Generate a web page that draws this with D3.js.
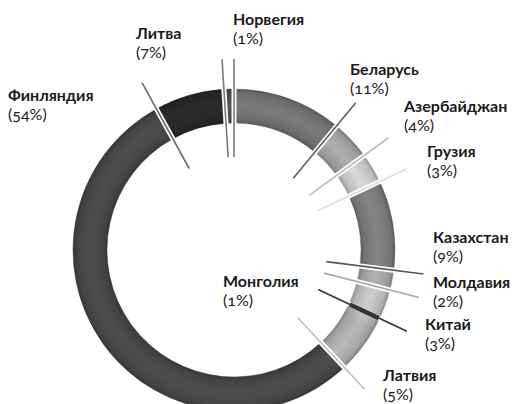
<!DOCTYPE html>
<html>
<head>
<meta charset="utf-8">
<script src="https://cdn.jsdelivr.net/npm/d3@7"></script>
<style>
  html, body { margin: 0; padding: 0; background: #fff; }
  svg { display: block; }
  .name { font-family: Lato, "Noto Sans", sans-serif; font-weight: 700; font-size: 16px; fill: #1a1a1a; }
  .pct { font-family: Lato, "Noto Sans", sans-serif; font-weight: 400; font-size: 16px; fill: #1a1a1a; font-variant-numeric: oldstyle-nums; font-feature-settings: "onum" 1; }
</style>
</head>
<body>
<svg id="chart" width="519" height="404"></svg>
<script>
// ---- data (clockwise from 12 o'clock) ----
const countries = ["Беларусь","Азербайджан","Грузия","Казахстан","Молдавия","Китай","Монголия","Латвия","Финляндия","Литва","Норвегия"];
const shares    = [11, 4, 3, 9, 2, 3, 1, 5, 54, 7, 1];
const sliceColors = ["#7a7a7a","#adadad","#d6d6d6","#838383","#b0b0b0","#cbcbcb","#bdbdbd","#b7b7b7","#4c4c4c","#2c2c2c","#525252"];
// which slice edge carries the leader line ("start"/"end"), and its colour
const leaderEdges  = [["end"],["end"],["end"],["end"],["end"],["end"],[],["end"],[],["start"],["start","end"]];
const leaderColors = ["#5e5e5e","#bbbbbb","#dddddd","#555555","#a8a8a8","#333333","#333333","#bdbdbd",null,"#6a6a6a","#7a7a7a"];

// ---- layout ----
const W = 519, H = 404;
const cx = 234, cy = 250;
const rIn = 127, rOut = 161;
const lineIn = 93, lineOut = 191;
const labelPos = {
  "Финляндия": [8, 101],
  "Литва": [136, 39],
  "Норвегия": [233, 25],
  "Беларусь": [350, 75],
  "Азербайджан": [404, 112],
  "Грузия": [427, 157],
  "Казахстан": [433, 243],
  "Молдавия": [433, 288],
  "Китай": [425, 330],
  "Латвия": [383, 381],
  "Монголия": [223, 287]
};
const lineGap = 19.3;

const data = countries.map((c, i) => ({ country: c, share: shares[i], color: sliceColors[i], edges: leaderEdges[i], lcolor: leaderColors[i] }));

const svg = d3.select("#chart");
const defs = svg.append("defs");
const grad = defs.append("radialGradient")
  .attr("id", "tube").attr("gradientUnits", "userSpaceOnUse")
  .attr("cx", 0).attr("cy", 0).attr("r", rOut);
[[rIn / rOut, 0.28], [(rIn + 4) / rOut, 0.12], [((rIn + rOut) / 2 - 2) / rOut, 0], [((rIn + rOut) / 2 + 2) / rOut, 0], [(rOut - 4) / rOut, 0.12], [1, 0.3]]
  .forEach(([o, a]) => grad.append("stop").attr("offset", o).attr("stop-color", "#000").attr("stop-opacity", a));
defs.append("filter").attr("id", "soft").append("feGaussianBlur").attr("stdDeviation", 0.6);

const g = svg.append("g").attr("transform", `translate(${cx},${cy})`);

const pie = d3.pie().value(d => d.share).sort(null);
const arcs = pie(data);
const arc = d3.arc().innerRadius(rIn).outerRadius(rOut);

const ring = g.append("g").attr("filter", "url(#soft)");
ring.selectAll("path.slice").data(arcs).join("path")
  .attr("class", "slice").attr("d", arc).attr("fill", d => d.data.color)
  .attr("stroke", d => d.data.color).attr("stroke-width", 0.5);
ring.append("path")
  .attr("d", d3.arc().innerRadius(rIn).outerRadius(rOut).startAngle(0).endAngle(2 * Math.PI)())
  .attr("fill", "url(#tube)");

// leader lines
const leaders = [];
arcs.forEach(a => {
  a.data.edges.forEach(e => {
    leaders.push({ angle: e === "start" ? a.startAngle : a.endAngle, color: a.data.lcolor, country: a.data.country });
  });
});
g.selectAll("line.halo").data(leaders).join("line").attr("class", "halo")
  .attr("x1", d => d3.pointRadial(d.angle, lineIn)[0]).attr("y1", d => d3.pointRadial(d.angle, lineIn)[1])
  .attr("x2", d => d3.pointRadial(d.angle, lineOut)[0]).attr("y2", d => d3.pointRadial(d.angle, lineOut)[1])
  .attr("stroke", "#fff").attr("stroke-width", 5);
g.selectAll("line.lead").data(leaders).join("line").attr("class", "lead")
  .attr("x1", d => d3.pointRadial(d.angle, lineIn)[0]).attr("y1", d => d3.pointRadial(d.angle, lineIn)[1])
  .attr("x2", d => d3.pointRadial(d.angle, lineOut)[0]).attr("y2", d => d3.pointRadial(d.angle, lineOut)[1])
  .attr("stroke", d => d.color).attr("stroke-width", 1.6);

// Mongolia: thin dark slice drawn as a thick bar on its start edge
const mong = arcs.find(a => a.data.country === "Монголия");
g.append("line")
  .attr("x1", d3.pointRadial(mong.startAngle, rIn + 1)[0]).attr("y1", d3.pointRadial(mong.startAngle, rIn + 1)[1])
  .attr("x2", d3.pointRadial(mong.startAngle, rOut - 1)[0]).attr("y2", d3.pointRadial(mong.startAngle, rOut - 1)[1])
  .attr("stroke", mong.data.lcolor).attr("stroke-width", 4.5);

// labels
const lab = svg.append("g");
data.forEach(d => {
  const [x, y] = labelPos[d.country];
  lab.append("text").attr("class", "name").attr("x", x).attr("y", y).text(d.country);
  lab.append("text").attr("class", "pct").attr("x", x).attr("y", y + lineGap).text(`(${d.share}%)`);
});
</script>
</body>
</html>
